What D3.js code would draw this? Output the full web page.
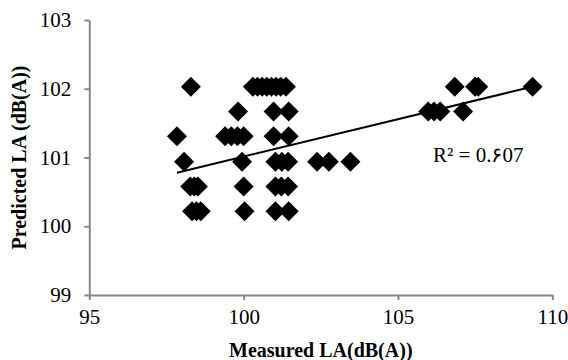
<!DOCTYPE html>
<html>
<head>
<meta charset="utf-8">
<script src="https://cdn.jsdelivr.net/npm/d3@7"></script>
<style>
  body { margin: 0; background: #fff; }
</style>
</head>
<body>
<div id="chart"></div>
<script>
// measured LA (x) and predicted LA (y)
const measured = [
    98.29, 100.3, 100.45, 100.6, 100.75, 100.9, 101.05, 101.2, 101.37, 106.84, 107.5, 107.6, 109.36,
    99.82, 100.97, 101.46, 105.98, 106.17, 106.37, 107.11,
    97.84, 99.4, 99.6, 99.8, 100.0, 100.97, 101.46,
    98.07, 99.95, 101.03, 101.24, 101.44, 102.38, 102.76, 103.46,
    98.27, 98.4, 98.52, 100.0, 101.03, 101.22, 101.44,
    98.33, 98.47, 98.61, 100.03, 101.03, 101.46
];
const predicted = [
    102.03, 102.03, 102.03, 102.03, 102.03, 102.03, 102.03, 102.03, 102.03, 102.03, 102.03, 102.03, 102.03,
    101.67, 101.67, 101.67, 101.67, 101.67, 101.67, 101.67,
    101.31, 101.31, 101.31, 101.31, 101.31, 101.31, 101.31,
    100.94, 100.94, 100.94, 100.94, 100.94, 100.94, 100.94, 100.94,
    100.58, 100.58, 100.58, 100.58, 100.58, 100.58, 100.58,
    100.22, 100.22, 100.22, 100.22, 100.22, 100.22
];
const xTicks = [95, 100, 105, 110];
const yTicks = [99, 100, 101, 102, 103];
// linear trendline as shown
const trendSlope = 0.1086;
const trendIntercept = 90.154;
const r2Label = "R² = 0.۶07";

const width = 568, height = 360;
const margin = { top: 20, right: 15.7, bottom: 65, left: 89.3 };
const serif = '"Liberation Serif", "Times New Roman", serif';

const points = measured.map((m, i) => ({ x: m, y: predicted[i] }));

const svg = d3.select("#chart")
    .append("svg")
    .attr("width", width)
    .attr("height", height)

svg.append("rect")
    .attr("width", width)
    .attr("height", height)
    .style("fill", "#ffffff")

const xScale = d3.scaleLinear()
    .domain([95, 110])
    .range([margin.left, width - margin.right])

const yScale = d3.scaleLinear()
    .domain([99, 103])
    .range([height - margin.bottom, margin.top])

//AXES
const xAxis = svg.append("g")
    .attr("transform", `translate(0, ${height - margin.bottom})`)
    .call(d3.axisBottom(xScale).tickValues(xTicks).tickFormat(d3.format("d"))
        .tickSize(5).tickPadding(9).tickSizeOuter(0))

const yAxis = svg.append("g")
    .attr("transform", `translate(${margin.left}, 0)`)
    .call(d3.axisLeft(yScale).tickValues(yTicks).tickFormat(d3.format("d"))
        .tickSize(5).tickPadding(13).tickSizeOuter(0))

for (const ax of [xAxis, yAxis]) {
    ax.selectAll("path, line").attr("stroke", "#868686").attr("stroke-width", 2)
    ax.selectAll("text")
        .style("font-family", serif)
        .style("font-size", "21px")
        .attr("fill", "#000")
}

//markers
const half = 10;
const diamond = `M0,${-half}L${half},0L0,${half}L${-half},0Z`;
svg.append("g")
    .selectAll("path")
    .data(points)
    .enter().append("path")
    .attr("d", diamond)
    .attr("transform", d => `translate(${xScale(d.x)}, ${yScale(d.y)})`)
    .style("fill", "#000000")

//trendline over the data range
const xExtent = d3.extent(measured);
svg.append("line")
    .attr("x1", xScale(xExtent[0]))
    .attr("y1", yScale(trendIntercept + trendSlope * xExtent[0]))
    .attr("x2", xScale(xExtent[1]))
    .attr("y2", yScale(trendIntercept + trendSlope * xExtent[1]))
    .attr("stroke", "#000")
    .attr("stroke-width", 2)

svg.append("text")
    .attr("x", 433)
    .attr("y", 162)
    .style("font-family", serif)
    .style("font-size", "21px")
    .text(r2Label)

//axis titles
svg.append("text")
    .attr("x", xScale(102.5))
    .attr("y", 357)
    .attr("text-anchor", "middle")
    .style("font-family", serif)
    .style("font-size", "20px")
    .style("font-weight", "bold")
    .text("Measured LA(dB(A))")

svg.append("text")
    .attr("transform", `translate(26, ${yScale(101)}) rotate(-90)`)
    .attr("text-anchor", "middle")
    .style("font-family", serif)
    .style("font-size", "20px")
    .style("font-weight", "bold")
    .text("Predicted LA (dB(A))")
</script>
</body>
</html>
